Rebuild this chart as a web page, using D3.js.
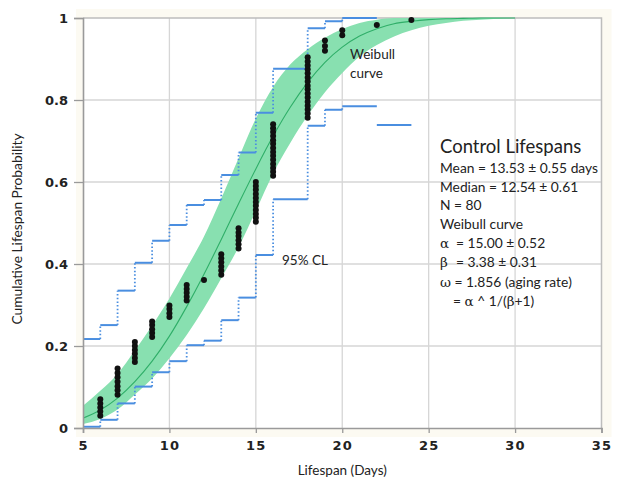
<!DOCTYPE html>
<html>
<head>
<meta charset="utf-8">
<script src="https://cdn.jsdelivr.net/npm/d3@7"></script>
<style>
  body { margin: 0; background: #ffffff; }
  svg { display: block; }
</style>
</head>
<body>
<script>
const W = 618, H = 484
const margin = { top: 18, right: 16, bottom: 56, left: 83 }

// tick labels
const xTicks = [5, 10, 15, 20, 25, 30, 35]
const yTicks = [0, 0.2, 0.4, 0.6, 0.8, 1]
const yTickLabels = ["0", "0.2", "0.4", "0.6", "0.8", "1"]

// observed deaths: day and the cumulative probability of each dot in the stack
const dotDays = [6, 7, 8, 9, 10, 11, 12, 13, 14, 15, 16, 18, 19, 20, 22, 24]
const dotProbs = [
    [0.030, 0.040, 0.050, 0.060, 0.070],
    [0.081, 0.092, 0.102, 0.113, 0.124, 0.134, 0.145],
    [0.161, 0.171, 0.181, 0.190, 0.200, 0.210],
    [0.222, 0.232, 0.241, 0.251, 0.260],
    [0.271, 0.280, 0.290, 0.299],
    [0.311, 0.320, 0.330, 0.339, 0.349],
    [0.361],
    [0.374, 0.384, 0.394, 0.404, 0.414, 0.424],
    [0.438, 0.448, 0.458, 0.468, 0.477, 0.487],
    [0.503, 0.513, 0.522, 0.532, 0.542, 0.551, 0.561, 0.571, 0.581, 0.590, 0.600],
    [0.615, 0.625, 0.634, 0.644, 0.654, 0.664, 0.673, 0.683, 0.693, 0.702, 0.712, 0.722, 0.731, 0.741],
    [0.757, 0.767, 0.777, 0.786, 0.796, 0.806, 0.816, 0.826, 0.835, 0.845, 0.855, 0.865, 0.875, 0.884, 0.894, 0.904],
    [0.920, 0.932, 0.945],
    [0.958, 0.970],
    [0.983],
    [0.995]
]

// weibull curve and its band
const curveDays = [5, 6, 7, 8, 9, 10, 11, 12, 13, 14, 15, 16, 17, 18, 19, 20, 21, 22, 23, 24, 25, 26, 27, 28, 29, 30]
const curveMid = [0.024, 0.044, 0.073, 0.113, 0.163, 0.224, 0.296, 0.375, 0.460, 0.547, 0.632, 0.712, 0.783, 0.843, 0.892, 0.929, 0.956, 0.974, 0.986, 0.992, 0.996, 0.998, 0.999, 1.0, 1.0, 1.0]
const bandHigh = [0.054, 0.091, 0.132, 0.189, 0.250, 0.316, 0.390, 0.467, 0.560, 0.658, 0.755, 0.832, 0.887, 0.924, 0.952, 0.973, 0.988, 0.996, 1.0, 1.0, 1.0, 1.0, 1.0, 1.0, 1.0, 1.0]
const bandLow = [0.010, 0.022, 0.045, 0.082, 0.121, 0.170, 0.227, 0.292, 0.365, 0.441, 0.530, 0.621, 0.696, 0.762, 0.819, 0.866, 0.906, 0.934, 0.955, 0.970, 0.981, 0.988, 0.993, 0.996, 0.998, 1.0]

// 95% confidence steps: step edges (days) and level on each step
const upperDays = [5, 6, 7, 8, 9, 10, 11, 12, 13, 14, 15, 16, 18, 19, 20, 22]
const upperVals = [0.217, 0.251, 0.335, 0.403, 0.457, 0.495, 0.544, 0.556, 0.617, 0.672, 0.769, 0.876, 0.975, 0.992, 1.0]
const lowerDays = [5, 6, 7, 8, 9, 10, 11, 12, 13, 14, 15, 16, 18, 19, 20, 22, 24]
const lowerVals = [0.003, 0.020, 0.060, 0.101, 0.136, 0.163, 0.202, 0.213, 0.263, 0.318, 0.422, 0.558, 0.737, 0.776, 0.785, 0.739]

const infoLines = [
    "Mean = 13.53 \u00b1 0.55 days",
    "Median = 12.54 \u00b1 0.61",
    "N = 80",
    "Weibull curve"
]

const svg = d3.select("body").append("svg").attr("width", W).attr("height", H)

const x = d3.scaleLinear().domain([5, 35]).range([margin.left, W - margin.right - 0.5])
const y = d3.scaleLinear().domain([0, 1]).range([H - margin.bottom, margin.top])

const blue = "#4a8ee0"
const tickFont = "'DejaVu Sans', sans-serif"
const textFont = "Lato, 'Open Sans', sans-serif"

// faint cream panel behind the plot
svg.append("rect")
    .attr("x", x(5) - 7).attr("y", y(1) - 9)
    .attr("width", x(35) - x(5) + 17).attr("height", y(0) - y(1) + 18)
    .attr("fill", "#fcfaf2")
svg.append("rect")
    .attr("x", x(5)).attr("y", y(1))
    .attr("width", x(35) - x(5)).attr("height", y(0) - y(1))
    .attr("fill", "#ffffff")

svg.append("clipPath").attr("id", "plot")
    .append("rect")
    .attr("x", x(5)).attr("y", y(1) - 3)
    .attr("width", x(35) - x(5)).attr("height", y(0) - y(1) + 3)

// grid
svg.append("g")
    .selectAll("line.v")
    .data(xTicks.slice(1, -1))
    .enter().append("line")
    .attr("x1", d => x(d)).attr("x2", d => x(d))
    .attr("y1", y(0)).attr("y2", y(1))
    .attr("stroke", "#d6d6d6").attr("stroke-width", 1.3)
svg.append("g")
    .selectAll("line.h")
    .data(yTicks.slice(1, -1))
    .enter().append("line")
    .attr("x1", x(5)).attr("x2", x(35))
    .attr("y1", d => y(d)).attr("y2", d => y(d))
    .attr("stroke", "#d6d6d6").attr("stroke-width", 1.3)

// frame (top and right)
svg.append("path")
    .attr("d", `M${x(5)},${y(1)}H${x(35)}V${y(0)}`)
    .attr("fill", "none").attr("stroke", "#bdbdbd").attr("stroke-width", 1.5)

const plot = svg.append("g").attr("clip-path", "url(#plot)")

// weibull band
const bandData = curveDays.map((d, i) => ({ day: d, lo: bandLow[i], hi: bandHigh[i], mid: curveMid[i] }))
plot.append("path")
    .datum(bandData)
    .attr("d", d3.area()
        .x(d => x(d.day))
        .y0(d => y(d.lo))
        .y1(d => y(d.hi))
        .curve(d3.curveMonotoneX))
    .attr("fill", "#88e0b0")

plot.append("path")
    .datum(bandData)
    .attr("d", d3.line()
        .x(d => x(d.day))
        .y(d => y(d.mid))
        .curve(d3.curveMonotoneX))
    .attr("fill", "none")
    .attr("stroke", "#2fae68")
    .attr("stroke-width", 1.1)

// confidence steps
function draw_steps(days, vals) {
    let flats = vals.map((v, i) => ({ x1: days[i], x2: days[i + 1], v: v }))
    let rises = []
    for (let i = 1; i < vals.length; i++) {
        if (vals[i] > vals[i - 1]) {
            rises.push({ x: days[i], a: vals[i - 1], b: vals[i] })
        }
    }

    plot.append("g")
        .selectAll("line")
        .data(rises)
        .enter().append("line")
        .attr("x1", d => x(d.x)).attr("x2", d => x(d.x))
        .attr("y1", d => y(d.a)).attr("y2", d => y(d.b))
        .attr("stroke", blue)
        .attr("stroke-width", 1.8)
        .attr("stroke-dasharray", "1.5,2.2")

    plot.append("g")
        .selectAll("line")
        .data(flats)
        .enter().append("line")
        .attr("x1", d => x(d.x1)).attr("x2", d => x(d.x2))
        .attr("y1", d => y(d.v)).attr("y2", d => y(d.v))
        .attr("stroke", blue)
        .attr("stroke-width", 2)
}

draw_steps(upperDays, upperVals)
draw_steps(lowerDays, lowerVals)

// dots
const dots = []
dotDays.forEach((d, i) => {
    dotProbs[i].forEach(p => dots.push({ day: d, p: p }))
})
plot.append("g")
    .selectAll("circle")
    .data(dots)
    .enter().append("circle")
    .attr("cx", d => x(d.day))
    .attr("cy", d => y(d.p))
    .attr("r", 3)
    .attr("fill", "#111")

// axes
const xAxis = svg.append("g")
    .attr("transform", `translate(0,${y(0)})`)
    .call(d3.axisBottom(x).tickValues(xTicks).tickSize(5).tickPadding(8))
xAxis.select(".domain").attr("stroke", "#9a9a9a").attr("stroke-width", 1.6)
xAxis.selectAll(".tick line").attr("stroke", "#9a9a9a").attr("stroke-width", 1.3)
xAxis.selectAll(".tick text")
    .attr("font-family", tickFont).attr("font-weight", "bold")
    .attr("font-size", 13).attr("letter-spacing", 1.2).attr("fill", "#222")

const yAxis = svg.append("g")
    .attr("transform", `translate(${x(5)},0)`)
    .call(d3.axisLeft(y).tickValues(yTicks).tickFormat((d, i) => yTickLabels[i]).tickSize(9).tickPadding(6))
yAxis.select(".domain").attr("stroke", "#9a9a9a").attr("stroke-width", 1.6)
yAxis.selectAll(".tick line").attr("stroke", "#9a9a9a").attr("stroke-width", 1.3)
yAxis.selectAll(".tick text")
    .attr("font-family", tickFont).attr("font-weight", "bold")
    .attr("font-size", 13).attr("fill", "#222")

// axis titles
svg.append("text")
    .attr("x", (x(5) + x(35)) / 2).attr("y", 475)
    .attr("text-anchor", "middle")
    .attr("font-family", textFont).attr("font-size", 13.5).attr("fill", "#222")
    .text("Lifespan (Days)")

svg.append("text")
    .attr("transform", `translate(22,${(y(0) + y(1)) / 2 + 6}) rotate(-90)`)
    .attr("text-anchor", "middle")
    .attr("font-family", textFont).attr("font-size", 13.8).attr("fill", "#222")
    .text("Cumulative Lifespan Probability")

// annotations
const note = svg.append("g").attr("font-family", textFont).attr("fill", "#222")
note.append("text").attr("x", 350).attr("y", 59).attr("font-size", 13.5).text("Weibull")
note.append("text").attr("x", 350).attr("y", 78).attr("font-size", 13.5).text("curve")
note.append("text").attr("x", 282).attr("y", 265).attr("font-size", 13.5).text("95% CL")

note.append("text").attr("x", 440).attr("y", 153).attr("font-size", 18.5).text("Control Lifespans")
note.selectAll("text.info")
    .data(infoLines)
    .enter().append("text")
    .attr("x", 440)
    .attr("y", (d, i) => 173 + i * 18.7)
    .attr("font-size", 13.8)
    .text(d => d)

const greek = "'DejaVu Serif', 'Liberation Serif', serif"
function greek_line(yPos, parts) {
    let t = note.append("text").attr("y", yPos).attr("font-size", 13.8)
    parts.forEach(p => {
        let s = t.append("tspan").text(p.s)
        if (p.x !== undefined) s.attr("x", p.x)
        if (p.g) s.attr("font-family", greek).attr("font-size", 13.5)
    })
}
greek_line(248, [{ x: 440, s: "\u03b1", g: true }, { x: 456, s: "= 15.00 \u00b1 0.52" }])
greek_line(267, [{ x: 440, s: "\u03b2", g: true }, { x: 456, s: "= 3.38 \u00b1 0.31" }])
greek_line(287, [{ x: 440, s: "\u03c9", g: true }, { s: " = 1.856 (aging rate)" }])
greek_line(306, [{ x: 453, s: "= " }, { s: "\u03b1", g: true }, { s: " ^ 1/(" }, { s: "\u03b2", g: true }, { s: "+1)" }])
</script>
</body>
</html>
